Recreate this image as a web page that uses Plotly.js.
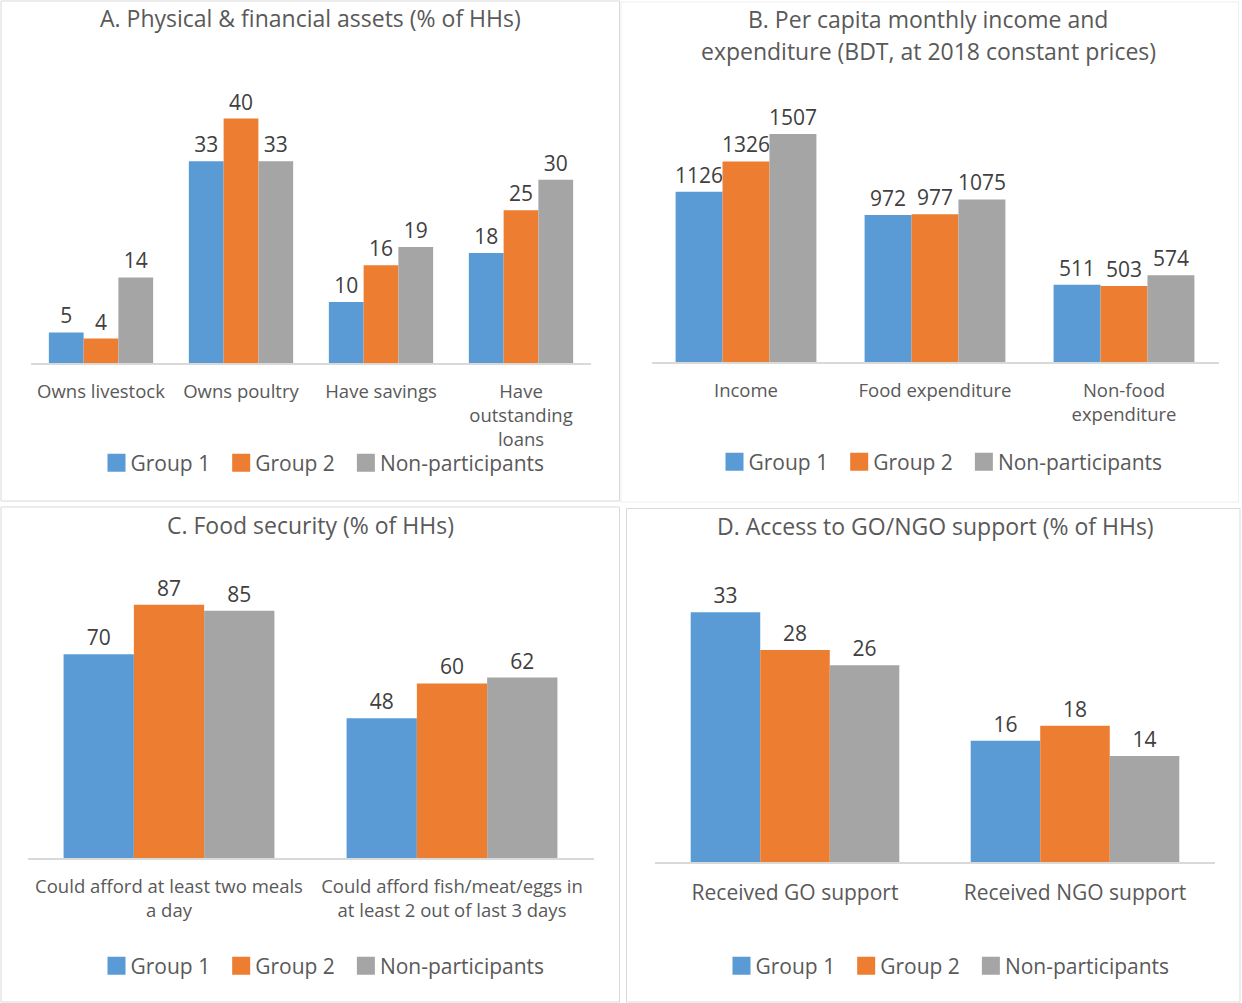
<!DOCTYPE html>
<html>
<head>
<meta charset="utf-8">
<script src="https://cdn.plot.ly/plotly-3.0.1.min.js"></script>
<style>
  html, body { margin: 0; padding: 0; background: #ffffff; }
  #chart { width: 1242px; height: 1003px; }
</style>
</head>
<body>
<div id="chart"></div>
<script>
// Series names and colours
const seriesNames = ['Group 1', 'Group 2', 'Non-participants'];
const seriesColors = ['#5B9BD5', '#ED7D31', '#A5A5A5'];

// A. Physical & financial assets (% of HHs)
const assetCategories = ['Owns livestock', 'Owns poultry', 'Have savings', 'Have<br>outstanding<br>loans'];
const assetGroup1 = [5, 33, 10, 18];
const assetGroup2 = [4, 40, 16, 25];
const assetNonPart = [14, 33, 19, 30];

// B. Per capita monthly income and expenditure (BDT, 2018 constant prices)
const incomeCategories = ['Income', 'Food expenditure', 'Non-food<br>expenditure'];
const incomeGroup1 = [1126, 972, 511];
const incomeGroup2 = [1326, 977, 503];
const incomeNonPart = [1507, 1075, 574];

// C. Food security (% of HHs)
const foodCategories = ['Could afford at least two meals<br>a day', 'Could afford fish/meat/eggs in<br>at least 2 out of last 3 days'];
const foodGroup1 = [70, 48];
const foodGroup2 = [87, 60];
const foodNonPart = [85, 62];

// D. Access to GO/NGO support (% of HHs)
const supportCategories = ['Received GO support', 'Received NGO support'];
const supportGroup1 = [33, 16];
const supportGroup2 = [28, 18];
const supportNonPart = [26, 14];

const W = 1242, H = 1003;
const px = x => x / W;          // pixel column -> paper x
const py = y => 1 - y / H;      // pixel row -> paper y

const FONT = '"Open Sans", "Segoe UI", "DejaVu Sans", sans-serif';
const TEXT_GREY = '#595959';
const LABEL_DARK = '#404040';

const panels = [
  { cats: assetCategories, series: [assetGroup1, assetGroup2, assetNonPart],
    xa: 'x', ya: 'y', legend: 'legend' },
  { cats: incomeCategories, series: [incomeGroup1, incomeGroup2, incomeNonPart],
    xa: 'x2', ya: 'y2', legend: 'legend2' },
  { cats: foodCategories, series: [foodGroup1, foodGroup2, foodNonPart],
    xa: 'x3', ya: 'y3', legend: 'legend3' },
  { cats: supportCategories, series: [supportGroup1, supportGroup2, supportNonPart],
    xa: 'x4', ya: 'y4', legend: 'legend4' }
];

const traces = [];
panels.forEach(p => {
  p.series.forEach((vals, i) => {
    traces.push({
      type: 'bar',
      x: p.cats,
      y: vals,
      name: seriesNames[i],
      xaxis: p.xa,
      yaxis: p.ya,
      legend: p.legend,
      marker: { color: seriesColors[i], line: { width: 0 } },
      text: vals.map(String),
      textposition: 'outside',
      textfont: { family: FONT, size: 21, color: LABEL_DARK },
      cliponaxis: false,
      constraintext: 'none',
      hoverinfo: 'skip'
    });
  });
});

function xAxis(left, right, fontSize) {
  return {
    domain: [px(left), px(right)],
    type: 'category',
    showline: true,
    linecolor: '#D9D9D9',
    linewidth: 1.5,
    showgrid: false,
    zeroline: false,
    ticks: 'outside',
    ticklen: 11,
    tickcolor: 'rgba(0,0,0,0)',
    tickangle: 0,
    tickfont: { family: FONT, size: fontSize, color: TEXT_GREY },
    fixedrange: true
  };
}
function yAxis(base, top, max, anchor) {
  return {
    domain: [py(base), py(top)],
    range: [0, max],
    showline: false,
    showgrid: false,
    zeroline: false,
    showticklabels: false,
    ticks: '',
    anchor: anchor,
    fixedrange: true
  };
}
function legendAt(cx, cy) {
  return {
    orientation: 'h',
    x: px(cx), y: py(cy),
    xanchor: 'center', yanchor: 'middle',
    font: { family: FONT, size: 21, color: TEXT_GREY },
    bgcolor: 'rgba(0,0,0,0)',
    itemclick: false, itemdoubleclick: false
  };
}
function title(text, cx, cy) {
  return {
    text: text, xref: 'paper', yref: 'paper',
    x: px(cx), y: py(cy), xanchor: 'center', yanchor: 'middle',
    showarrow: false,
    font: { family: FONT, size: 23, color: TEXT_GREY }
  };
}
function box(x0, y0, x1, y1, color) {
  return {
    type: 'rect', xref: 'paper', yref: 'paper',
    x0: px(x0), x1: px(x1), y0: py(y1), y1: py(y0),
    line: { color: color, width: 1 }, fillcolor: 'rgba(0,0,0,0)', layer: 'below'
  };
}

const layout = {
  width: W, height: H,
  margin: { l: 0, r: 0, t: 0, b: 0 },
  paper_bgcolor: '#ffffff',
  plot_bgcolor: 'rgba(0,0,0,0)',
  font: { family: FONT, color: TEXT_GREY },
  barmode: 'group',
  bargap: 0.255,
  bargroupgap: 0,
  showlegend: true,
  xaxis: xAxis(31, 591, 18.5),
  yaxis: yAxis(363, 88, 45, 'x'),
  xaxis2: Object.assign(xAxis(651.5, 1218.5, 18.5), { anchor: 'y2' }),
  yaxis2: yAxis(362, 120, 1600, 'x2'),
  xaxis3: Object.assign(xAxis(27.5, 593.5, 18.5), { anchor: 'y3' }),
  yaxis3: yAxis(858, 567, 100, 'x3'),
  xaxis4: Object.assign(xAxis(655, 1215, 21), { anchor: 'y4' }),
  yaxis4: yAxis(862, 597, 35, 'x4'),
  legend: legendAt(320, 463),
  legend2: legendAt(938, 462),
  legend3: legendAt(320, 966),
  legend4: legendAt(945, 966),
  annotations: [
    title('A. Physical &amp; financial assets (% of HHs)', 310, 18),
    title('B. Per capita monthly income and', 928, 19),
    title('expenditure (BDT, at 2018 constant prices)', 928, 51),
    title('C. Food security (% of HHs)', 310, 525),
    title('D. Access to GO/NGO support (% of HHs)', 935, 526)
  ],
  shapes: [
    box(1, 1, 619.5, 501, '#D9D9D9'),
    box(621, 2, 1238.5, 502, '#EEEEEE'),
    box(1, 507, 619.5, 1002, '#D9D9D9'),
    box(626.5, 508.5, 1240, 1002, '#D9D9D9')
  ]
};

Plotly.newPlot('chart', traces, layout, { staticPlot: true, displayModeBar: false }).then(gd => {
  // Enlarge the legend colour squares and nudge them next to their labels
  gd.querySelectorAll('.legendpoints path').forEach(p => {
    const t = p.getAttribute('transform') || '';
    p.setAttribute('transform', t + ' translate(6,0) scale(1.5)');
  });
});
</script>
</body>
</html>
